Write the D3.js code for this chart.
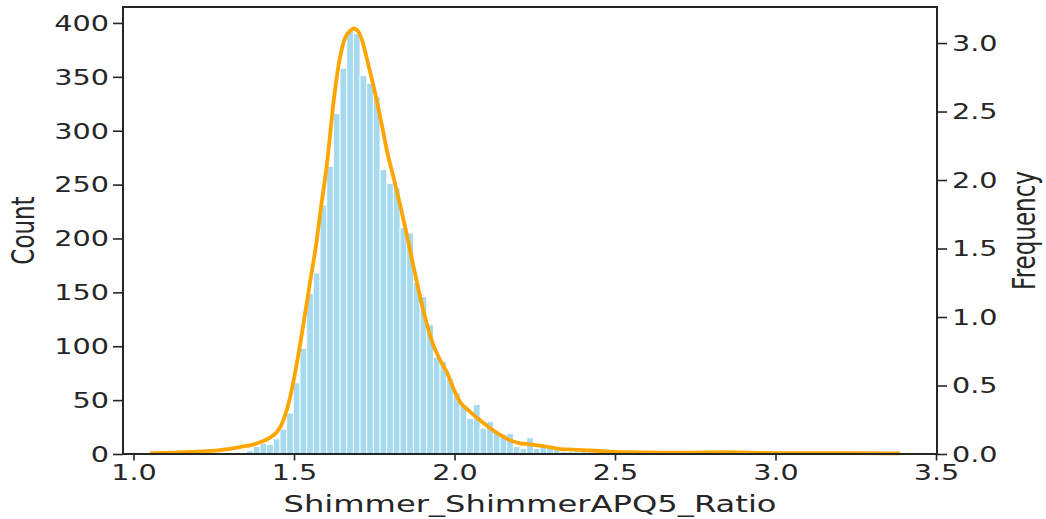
<!DOCTYPE html>
<html>
<head>
<meta charset="utf-8">
<script src="https://cdn.jsdelivr.net/npm/d3@7"></script>
<style>
  html, body { margin: 0; padding: 0; background: #fff; }
  svg { display: block; }
  text { font-family: "DejaVu Sans", sans-serif; fill: #262626; }
</style>
</head>
<body>
<svg id="chart" width="1046" height="519"></svg>
<script>
// ---- data ----
const binStart = 1.3319;      // left edge of first bin
const binWidth = 0.02077;
const counts = [1, 3, 7, 10, 9, 14, 23, 38, 66, 98, 149, 168, 231, 267, 316, 358, 393, 390,
  351, 344, 332, 264, 251, 247, 210, 205, 159, 146, 120, 90, 86, 70, 57, 45, 33, 46, 24,
  30, 20, 18, 19, 7, 5, 15, 5, 7, 7, 5, 2, 2, 2, 3, 2, 1, 2, 1, 0, 1, 0, 0, 1, 0, 0, 0, 0,
  0, 0, 0, 0, 0, 1, 0, 0, 1, 0, 0, 0, 0, 0, 0, 0, 0, 0, 0, 0, 0, 0, 0, 0, 0, 0, 0, 0, 1];
const kdeX = [1.051, 1.176, 1.269, 1.332, 1.372, 1.400, 1.425, 1.447, 1.466, 1.488, 1.508,
  1.529, 1.550, 1.571, 1.581, 1.603, 1.625, 1.643, 1.659, 1.678, 1.685, 1.696, 1.712, 1.731,
  1.752, 1.773, 1.789, 1.809, 1.830, 1.851, 1.872, 1.893, 1.913, 1.934, 1.955, 1.976, 1.996,
  2.017, 2.048, 2.079, 2.111, 2.142, 2.173, 2.204, 2.235, 2.266, 2.298, 2.329, 2.369, 2.413,
  2.453, 2.494, 2.578, 2.681, 2.765, 2.836, 2.921, 2.992, 3.170, 3.357, 3.388];
const kdeY = [0.004, 0.015, 0.029, 0.051, 0.069, 0.091, 0.120, 0.161, 0.241, 0.416, 0.650,
  0.942, 1.255, 1.562, 1.745, 2.124, 2.606, 2.891, 3.036, 3.095, 3.106, 3.095, 3.022, 2.847,
  2.642, 2.409, 2.219, 2.029, 1.825, 1.606, 1.372, 1.146, 0.956, 0.796, 0.686, 0.599, 0.482,
  0.382, 0.309, 0.248, 0.188, 0.139, 0.100, 0.078, 0.071, 0.062, 0.049, 0.036, 0.032, 0.027,
  0.022, 0.015, 0.012, 0.009, 0.011, 0.013, 0.010, 0.007, 0.006, 0.005, 0.004];
const xTicks = [1.0, 1.5, 2.0, 2.5, 3.0, 3.5];
const countTicks = [0, 50, 100, 150, 200, 250, 300, 350, 400];
const freqTicks = [0.0, 0.5, 1.0, 1.5, 2.0, 2.5, 3.0];
const xLabel = "Shimmer_ShimmerAPQ5_Ratio";
const yLabelLeft = "Count";
const yLabelRight = "Frequency";

// ---- layout ----
const L = 123, R = 937, T = 7, B = 454;
const SX = 1.4; // horizontal stretch of text in the reference
const svg = d3.select("#chart");

const x = d3.scaleLinear().domain([0.9673, 3.5031]).range([L, R]);
const yC = d3.scaleLinear().domain([0, 414.8]).range([B, T]);
const yF = d3.scaleLinear().domain([0, 3.263]).range([B, T]);

const bins = counts.map((c, i) => ({ x0: binStart + i * binWidth, x1: binStart + (i + 1) * binWidth, c }))
  .filter(d => d.c > 0);

svg.append("g").selectAll("rect").data(bins).join("rect")
  .attr("x", d => x(d.x0))
  .attr("width", d => x(d.x1) - x(d.x0))
  .attr("y", d => yC(d.c))
  .attr("height", d => yC(0) - yC(d.c))
  .attr("fill", "rgb(165,218,240)")
  .attr("stroke", "#fff")
  .attr("stroke-width", 0.9);

const kde = kdeX.map((v, i) => [v, kdeY[i]]);
svg.append("path")
  .datum(kde)
  .attr("fill", "none")
  .attr("stroke", "#FFA500")
  .attr("stroke-width", 3.8)
  .attr("stroke-linejoin", "round")
  .attr("d", d3.line().x(d => x(d[0])).y(d => yF(d[1])).curve(d3.curveMonotoneX));

// spines
svg.append("rect").attr("x", L).attr("y", T).attr("width", R - L).attr("height", B - T)
  .attr("fill", "none").attr("stroke", "#262626").attr("stroke-width", 2);

function styleAxis(g) {
  g.select(".domain").remove();
  g.selectAll(".tick line").attr("stroke", "#262626").attr("stroke-width", 1.6);
  g.selectAll(".tick text").style("font-family", "DejaVu Sans").attr("font-size", 20.5).attr("fill", "#262626");
}

// bottom axis
const gx = svg.append("g").attr("transform", `translate(0,${B})`)
  .call(d3.axisBottom(x).tickValues(xTicks).tickFormat(d3.format(".1f")).tickSize(6.5));
styleAxis(gx);
gx.selectAll(".tick text").attr("y", 26).attr("dy", 0).attr("transform", `scale(${SX},1)`);

// left axis
const gl = svg.append("g").attr("transform", `translate(${L},0)`)
  .call(d3.axisLeft(yC).tickValues(countTicks).tickFormat(d3.format("d")).tickSize(10));
styleAxis(gl);
gl.selectAll(".tick text").attr("x", -14 / SX).attr("dy", "0.36em").attr("transform", `scale(${SX},1)`);

// right axis
const gr = svg.append("g").attr("transform", `translate(${R},0)`)
  .call(d3.axisRight(yF).tickValues(freqTicks).tickFormat(d3.format(".1f")).tickSize(10));
styleAxis(gr);
gr.selectAll(".tick text").attr("x", 15 / SX).attr("dy", "0.36em").attr("transform", `scale(${SX},1)`);

// axis labels
svg.append("text")
  .attr("transform", `translate(${(L + R) / 2},512) scale(${SX},1)`)
  .attr("text-anchor", "middle").attr("font-size", 23).text(xLabel);

svg.append("text")
  .attr("transform", `translate(34,${(T + B) / 2}) scale(${SX},1) rotate(-90)`)
  .attr("text-anchor", "middle").attr("font-size", 23).text(yLabelLeft);

svg.append("text")
  .attr("transform", `translate(1035,${(T + B) / 2}) scale(${SX},1) rotate(-90)`)
  .attr("text-anchor", "middle").attr("font-size", 23).text(yLabelRight);
</script>
</body>
</html>
